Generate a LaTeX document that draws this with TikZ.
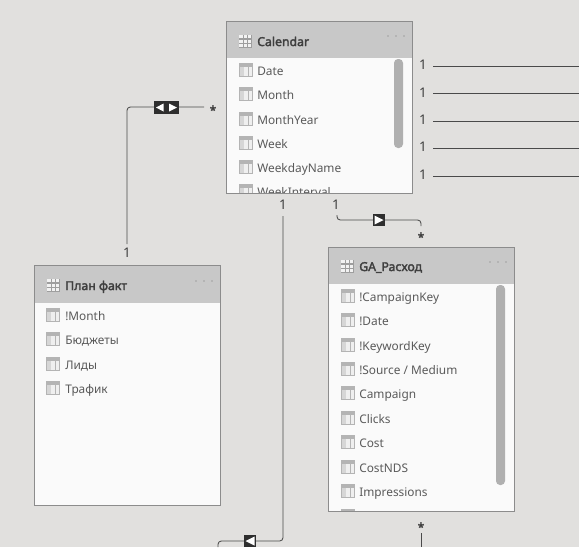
\documentclass[tikz,border=0pt]{standalone}
\usepackage{fontspec}
\setmainfont{Noto Sans}
\newfontfamily\ttlfont[FakeBold=2.6]{Noto Sans}
\definecolor{bgc}{HTML}{E1E0DE}
\definecolor{hdc}{HTML}{C8C8C8}
\definecolor{bodyc}{HTML}{FAFAFA}
\definecolor{edgec}{HTML}{8C8C8C}
\definecolor{txtc}{HTML}{5A5A5A}
\definecolor{ttlc}{HTML}{3F3F3F}
\definecolor{iconc}{HTML}{B4B4B4}
\definecolor{cellc}{HTML}{EFEFEF}
\definecolor{cellb}{HTML}{D6D6D6}
\definecolor{linec}{HTML}{4A4A4A}
\definecolor{barc}{HTML}{B0B0B0}
\definecolor{badgec}{HTML}{2E2E2E}
\tikzset{
  x=0.75pt,y=-0.75pt,
  tablebox/.style={draw=edgec,line width=0.7pt,fill=bodyc,minimum width=139.5pt,inner sep=0pt,outer sep=0pt,anchor=north west},
  headbar/.style={fill=hdc,draw=none},
  rowtext/.style={font=\fontsize{8.9pt}{11pt}\selectfont,text=txtc,anchor=base west,inner sep=0pt},
  titletext/.style={font=\fontsize{9.2pt}{11pt}\ttlfont\selectfont,text=ttlc,anchor=base west,inner sep=0pt},
  numlabel/.style={font=\fontsize{10pt}{11pt}\selectfont,text=ttlc,inner sep=0pt},
  starlabel/.style={font=\fontsize{9pt}{11pt}\ttlfont\selectfont,text=ttlc,inner sep=0pt},
  relline/.style={draw=linec,line width=0.65pt,rounded corners=2.5pt},
  badgebox/.style={fill=badgec,draw=none,inner sep=0pt,outer sep=0pt},
  barstyle/.style={fill=barc,draw=none,rounded corners=3pt},
}
% row icon: small grey table glyph
\newcommand{\rowicon}[2]{%
  \fill[iconc] (#1,#2-7) rectangle +(14,14);
  \fill[cellb] (#1+1.2,#2-3) rectangle +(3.4,8.8);
  \fill[cellc] (#1+5.4,#2-3) rectangle +(3.4,2.6);
  \fill[cellc] (#1+9.5,#2-3) rectangle +(3.4,2.6);
  \fill[cellc] (#1+5.4,#2+0.3) rectangle +(3.4,2.4);
  \fill[cellc] (#1+9.5,#2+0.3) rectangle +(3.4,2.4);
  \fill[cellc] (#1+5.4,#2+3.4) rectangle +(3.4,2.4);
  \fill[cellc] (#1+9.5,#2+3.4) rectangle +(3.4,2.4);
}
% header icon: light cells on the header band
\newcommand{\headicon}[2]{%
  \fill[black!38] (#1,#2-6.5) rectangle +(13.5,13);
  \foreach \i in {0.9,5.1,9.3}{\foreach \j in {0.9,5,9.1}{
    \fill[white!95!black] (#1+\i,#2-6.5+\j) rectangle +(3.3,3);
  }}
}
\newcommand{\menudots}[2]{%
  \foreach \k in {-8,0,8}{\fill[black!55] (#1+\k,#2) circle (0.6);}
}
\begin{document}
\begin{tikzpicture}
\useasboundingbox (0,0) rectangle (579,547);
\clip (0,0) rectangle (579,547);
\fill[bgc] (0,0) rectangle (579,547);

% ---------- connector ends
\coordinate (cRightA0) at (433,66);   \coordinate (cRightA1) at (579,66);
\coordinate (cRightB0) at (433,93);   \coordinate (cRightB1) at (579,93);
\coordinate (cRightC0) at (433,121);  \coordinate (cRightC1) at (579,121);
\coordinate (cRightD0) at (433,148);  \coordinate (cRightD1) at (579,148);
\coordinate (cRightE0) at (433,176);  \coordinate (cRightE1) at (579,176);
\coordinate (cPlanUp) at (127,244);   \coordinate (cCalLeft) at (204,107);
\coordinate (cCalDown) at (337,215);  \coordinate (cGaUp) at (421,226);
\coordinate (cMainDown) at (283,216); \coordinate (cOffBottom) at (218,547);
\coordinate (cGaBelow) at (421,533);  \coordinate (cGaOff) at (421,547);

\foreach \s in {A,B,C,D,E}{\draw[relline] (cRight\s0) -- (cRight\s1);}
\draw[relline] (cPlanUp) |- (cCalLeft);
\draw[relline] (cCalDown) |- (379,220) -| (cGaUp);
\draw[relline] (cMainDown) |- (250,541) -| (cOffBottom);
\draw[relline] (cGaBelow) -- (cGaOff);

% ---------- badges
\node[badgebox,minimum width=18.75pt,minimum height=9.75pt] (badgeBoth) at (166.5,107.5) {};
\fill[white] (163.5,103.5) -- (163.5,111.5) -- (156,107.5) -- cycle;
\fill[white] (169,103.5) -- (169,111.5) -- (177,107.5) -- cycle;
\node[badgebox,minimum width=9pt,minimum height=9pt] (badgeDown) at (379,220) {};
\fill[white] (374.5,215.5) -- (374.5,224.5) -- (383.5,220) -- cycle;
\node[badgebox,minimum width=9pt,minimum height=9pt] (badgeLeft) at (250,541) {};
\fill[white] (254.5,536.5) -- (254.5,545.5) -- (245.5,541) -- cycle;

% ---------- cardinalities
\foreach \n/\y in {a/65,b/93,c/120,d/147,e/175}{\node[numlabel] (one\n) at (423,\y) {1};}
\node[numlabel] (oneCalA) at (283,205) {1};
\node[numlabel] (oneCalB) at (336,205) {1};
\node[numlabel] (onePlan) at (127,253) {1};
\node[starlabel] (starCal) at (213,110) {*};
\node[starlabel] (starGaT) at (421,237) {*};
\node[starlabel] (starGaB) at (421,527) {*};

% ---------- Calendar
\node[tablebox,minimum height=129pt] (calendar) at (226,21) {};
\begin{scope}
\clip (226,21) rectangle (412,193);
\fill[headbar] (226,21) rectangle (412,58);
\headicon{238.5}{41}
\node[titletext] (calT) at (257,46) {Calendar};
\menudots{396}{36}
\foreach \n/\y/\t in {a/70/Date,b/94/Month,c/119/MonthYear,d/143/Week,e/167/WeekdayName,f/191/WeekInterval}{
  \rowicon{239}{\y}
  \node[rowtext] (cal\n) at (257,\y+5) {\t};
}
\fill[barstyle] (394,59) rectangle (403,148);
\end{scope}
\draw[edgec,line width=0.7pt] (226,21) rectangle (412,193);

% ---------- GA
\node[tablebox,minimum height=198pt] (ga) at (328,247) {};
\begin{scope}
\clip (328,247) rectangle (514,511);
\fill[headbar] (328,247) rectangle (514,284);
\headicon{340.5}{266}
\node[titletext] (gaT) at (359,271) {GA\_Расход};
\menudots{498}{262}
\foreach \n/\y/\t in {a/296/!CampaignKey,b/320/!Date,c/345/!KeywordKey,d/369/{!Source / Medium},e/393/Campaign,f/418/Clicks,g/442/Cost,h/467/CostNDS,i/491/Impressions}{
  \rowicon{341}{\y}
  \node[rowtext] (ga\n) at (359,\y+5) {\t};
}
\rowicon{341}{516}
\fill[barstyle] (496,285) rectangle (505,485);
\end{scope}
\draw[edgec,line width=0.7pt] (328,247) rectangle (514,511);

% ---------- План факт
\node[tablebox,minimum height=180pt] (plan) at (34,265) {};
\begin{scope}
\clip (34,265) rectangle (220,505);
\fill[headbar] (34,265) rectangle (220,303);
\headicon{46.5}{285}
\node[titletext] (planT) at (65,290) {План факт};
\menudots{204}{281}
\foreach \n/\y/\t in {a/315/!Month,b/339/Бюджеты,c/364/Лиды,d/388/Трафик}{
  \rowicon{46}{\y}
  \node[rowtext] (plan\n) at (65,\y+5) {\t};
}
\end{scope}
\draw[edgec,line width=0.7pt] (34,265) rectangle (220,505);
\end{tikzpicture}
\end{document}
